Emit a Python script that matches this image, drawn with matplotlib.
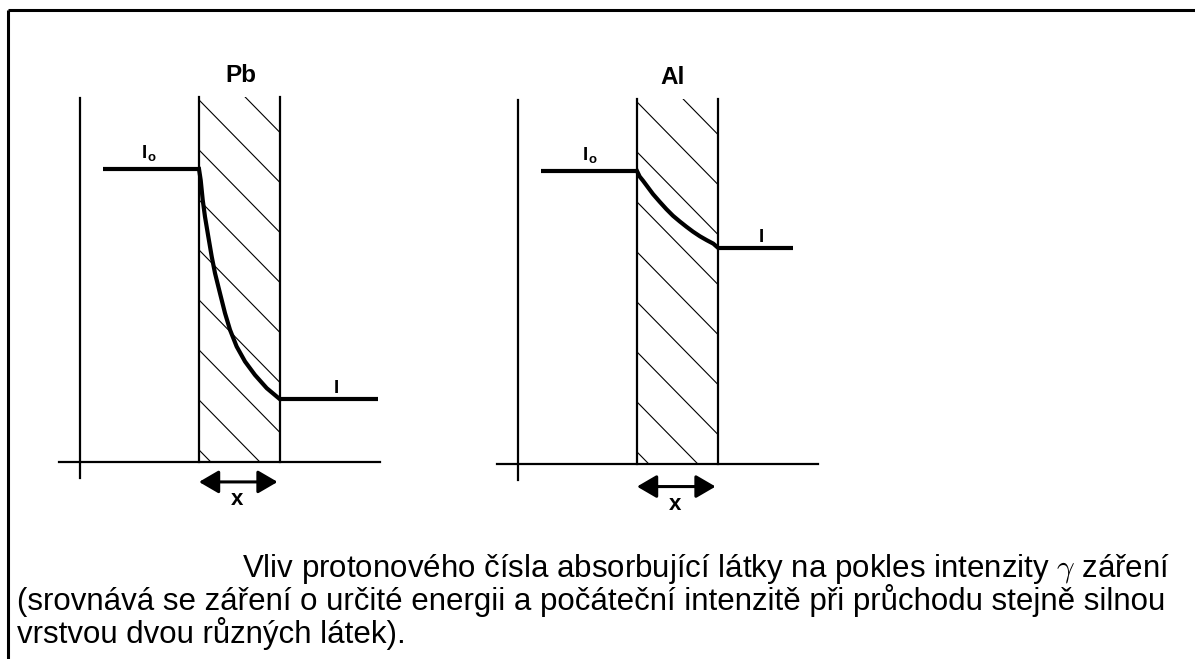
import matplotlib
matplotlib.use("Agg")
import matplotlib.pyplot as plt
from matplotlib.patches import Rectangle, FancyArrowPatch

plt.rcParams['mathtext.fontset'] = 'custom'
plt.rcParams['mathtext.rm'] = 'Liberation Sans:bold'
plt.rcParams['mathtext.it'] = 'cmmi10'

# depth inside the absorber (0 = entry face, 1 = exit face) and relative intensity I/I0
pb_depth = [0.0, 0.021, 0.046, 0.074, 0.115, 0.157, 0.198, 0.259, 0.321, 0.383,
            0.465, 0.568, 0.691, 0.836, 1.0]
pb_intensity = [1.0, 0.962, 0.894, 0.837, 0.769, 0.701, 0.644, 0.576, 0.508, 0.451,
                0.394, 0.343, 0.297, 0.252, 0.214]
al_depth = [0.0, 0.033, 0.074, 0.136, 0.198, 0.28, 0.362, 0.445, 0.527, 0.609,
            0.691, 0.778, 0.86, 0.942, 1.0]
al_intensity = [1.0, 0.981, 0.967, 0.944, 0.921, 0.895, 0.870, 0.847, 0.828, 0.810,
                0.793, 0.777, 0.764, 0.752, 0.738]
materials = ["Pb", "Al"]

caption = [
    "Vliv protonového čísla absorbující látky na pokles intenzity $\\gamma$ záření",
    "(srovnává se záření o určité energii a počáteční intenzitě při průchodu stejně silnou",
    "vrstvou dvou různých látek).",
]

W, H = 1195, 659
fig = plt.figure(figsize=(W / 100, H / 100), dpi=100)

# background axes in pixel units for the frame and caption
bg = fig.add_axes([0, 0, 1, 1])
bg.set_xlim(0, W)
bg.set_ylim(H, 0)
bg.axis("off")
bg.plot([8, W], [10, 10], color="black", lw=2.2, solid_capstyle="butt")
bg.plot([8, 8], [10, H], color="black", lw=2.2, solid_capstyle="butt")

cap_font = ['Liberation Sans', 'DejaVu Sans']
bg.text(1170, 577, caption[0], ha="right", va="baseline", fontsize=22.5, family=cap_font)
bg.text(17, 610, caption[1], ha="left", va="baseline", fontsize=22.5, family=cap_font)
bg.text(17, 643, caption[2], ha="left", va="baseline", fontsize=22.5, family=cap_font)

sx, sy = 81.0, 293.0   # pixels per unit of depth / intensity
bold = dict(family="Liberation Sans", weight="bold")


def panel(x0, y0, depth, inten, name, out_end, arrow_y, lab):
    ax = fig.add_axes([0, 0, 1, 1])
    ax.set_xlim(-x0 / sx, (W - x0) / sx)
    ax.set_ylim((y0 - H) / sy, y0 / sy)
    ax.patch.set_alpha(0)
    ax.axis("off")

    # axes lines
    ax.plot([-1.47, -1.47], [-0.055, 1.242], color="black", lw=1.6)
    ax.plot([-1.73, 2.23], [0, 0], color="black", lw=1.6)

    # absorber slab: two faces and hatching, no top edge
    top = 1.246
    slab = Rectangle((0, 0), 1, top, fill=False, ec="none")
    ax.add_patch(slab)
    ax.plot([0, 0], [0, top], color="black", lw=1.6)
    ax.plot([1, 1], [0, top], color="black", lw=1.6)
    slope = 1.02 * sx / sy
    for k in range(-2, 10):
        yl = top - (3 + 50 * k) / sy
        ln, = ax.plot([0, 1], [yl, yl - slope], color="black", lw=0.8)
        ln.set_clip_path(slab)

    # intensity: incoming, inside the slab, outgoing
    lw = 3.0
    ax.plot([-1.19, depth[0]], [inten[0], inten[0]], color="black", lw=lw, solid_capstyle="butt")
    ax.plot(depth, inten, color="black", lw=lw, solid_joinstyle="round")
    ax.plot([depth[-1], out_end], [inten[-1], inten[-1]], color="black", lw=lw, solid_capstyle="butt")

    ax.text(lab[0], 1.32, name, ha="center", va="center", fontsize=17.5, **bold)
    ax.text(lab[1], inten[0] + 0.035, "I$_\\mathregular{o}$", ha="left", va="baseline",
            fontsize=13.5, **bold)
    ax.text(lab[2], inten[-1] + 0.02, "I", ha="center", va="baseline", fontsize=13.5, **bold)

    arr = FancyArrowPatch((0, arrow_y), (0.97, arrow_y),
                          arrowstyle="<|-|>,head_length=0.6,head_width=0.35",
                          mutation_scale=20, color="black", lw=2.2,
                          shrinkA=0, shrinkB=0)
    ax.add_patch(arr)
    ax.text(0.47, arrow_y - 0.06, "x", ha="center", va="center", fontsize=16, **bold)


panel(199, 462, pb_depth, pb_intensity, materials[0], 2.21, -0.068, (0.52, -0.716, 1.69))
panel(637, 464, al_depth, al_intensity, materials[1], 1.93, -0.077, (0.44, -0.68, 1.53))

fig.savefig("out.png", dpi=100)
